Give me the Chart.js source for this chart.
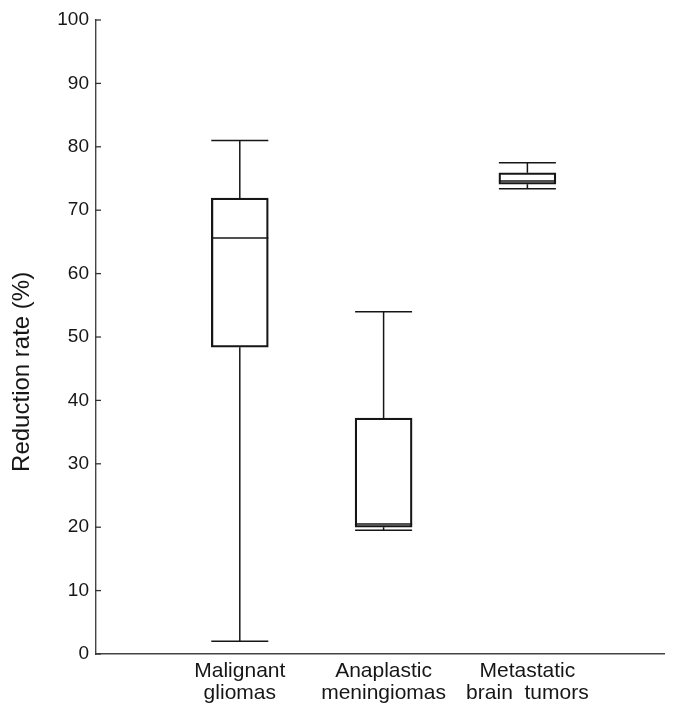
<!DOCTYPE html>
<html>
<head>
<meta charset="utf-8">
<script src="https://cdn.jsdelivr.net/npm/chart.js@4/dist/chart.umd.min.js"></script>
<style>
  html, body { margin: 0; padding: 0; background: #fff; overflow: hidden; }
  #wrap { width: 676px; height: 704px; overflow: hidden; }
</style>
</head>
<body>
<div id="wrap"><canvas id="c" width="676" height="726"></canvas></div>
<script>
// ---- data ----
const categories = [['Malignant', 'gliomas'], ['Anaplastic', 'meningiomas'], ['Metastatic', 'brain  tumors']];
const positions = [1, 2, 3];
const whiskerLow = [2.0, 19.5, 73.4];
const q1 = [48.4, 20.0, 74.1];
const median = [65.6, 20.5, 74.6];
const q3 = [71.9, 37.2, 75.9];
const whiskerHigh = [81.0, 54.0, 77.5];
const yTicks = [0, 10, 20, 30, 40, 50, 60, 70, 80, 90, 100];
const yTitle = 'Reduction rate (%)';

const INK = '#161616';
const FONT = 'Liberation Sans, Arial, sans-serif';

const boxData = positions.map((p, i) => ({ x: p, y: [q1[i], q3[i]] }));

const boxPlugin = {
  id: 'boxWhiskers',
  afterDatasetsDraw(chart) {
    const xs = chart.scales.x, ys = chart.scales.y;
    const meta = chart.getDatasetMeta(0);
    const ctx = chart.ctx;
    ctx.save();
    ctx.strokeStyle = INK;
    ctx.lineWidth = 1.5;
    positions.forEach((p, i) => {
      const cx = xs.getPixelForValue(p);
      const hw = meta.data[i].width / 2;
      const line = (x1, y1, x2, y2) => { ctx.beginPath(); ctx.moveTo(x1, y1); ctx.lineTo(x2, y2); ctx.stroke(); };
      line(cx, ys.getPixelForValue(q3[i]), cx, ys.getPixelForValue(whiskerHigh[i]));
      line(cx, ys.getPixelForValue(q1[i]), cx, ys.getPixelForValue(whiskerLow[i]));
      line(cx - hw, ys.getPixelForValue(whiskerHigh[i]), cx + hw, ys.getPixelForValue(whiskerHigh[i]));
      line(cx - hw, ys.getPixelForValue(whiskerLow[i]), cx + hw, ys.getPixelForValue(whiskerLow[i]));
      line(cx - hw, ys.getPixelForValue(median[i]), cx + hw, ys.getPixelForValue(median[i]));
    });
    // inward y tick marks
    ctx.strokeStyle = '#333';
    ctx.lineWidth = 1.3;
    const left = chart.chartArea.left;
    yTicks.forEach(v => {
      const y = ys.getPixelForValue(v);
      ctx.beginPath(); ctx.moveTo(left - 1, y); ctx.lineTo(left + 5, y); ctx.stroke();
    });
    // y-axis title (placed slightly below the axis centre as in the reference)
    ctx.fillStyle = INK;
    ctx.font = '24px ' + FONT;
    ctx.textAlign = 'center';
    ctx.textBaseline = 'middle';
    ctx.translate(22, ys.getPixelForValue(44.5));
    ctx.rotate(-Math.PI / 2);
    ctx.fillText(yTitle, 0, 0);
    ctx.restore();
  }
};

new Chart(document.getElementById('c'), {
  type: 'bar',
  data: {
    datasets: [{
      data: boxData,
      backgroundColor: 'rgba(255,255,255,0)',
      borderColor: INK,
      borderWidth: 1.6,
      borderSkipped: false,
      barThickness: 57
    }]
  },
  plugins: [boxPlugin],
  options: {
    responsive: false,
    animation: false,
    events: [],
    layout: { padding: { top: 20, right: 12, left: 0, bottom: 0 } },
    plugins: { legend: { display: false }, tooltip: { enabled: false } },
    scales: {
      x: {
        type: 'linear',
        offset: false,
        min: 0,
        max: 3.95,
        grid: { display: false, drawTicks: false, tickLength: 0 },
        border: { display: true, color: '#444', width: 1.4 },
        ticks: {
          stepSize: 1,
          autoSkip: false,
          maxRotation: 0,
          padding: 6,
          color: INK,
          font: { family: FONT, size: 21, lineHeight: 1.05 },
          callback: (v) => {
            const k = positions.indexOf(v);
            return k >= 0 ? categories[k] : '';
          }
        },
        afterFit: (s) => { s.height = 72; }
      },
      y: {
        type: 'linear',
        min: 0,
        max: 100,
        grid: { display: false, drawTicks: false, tickLength: 0 },
        border: { display: true, color: '#444', width: 1.4 },
        ticks: {
          stepSize: 10,
          padding: 7,
          color: INK,
          font: { family: FONT, size: 19 }
        },
        afterFit: (s) => { s.width = 96; }
      }
    }
  }
});
</script>
</body>
</html>
